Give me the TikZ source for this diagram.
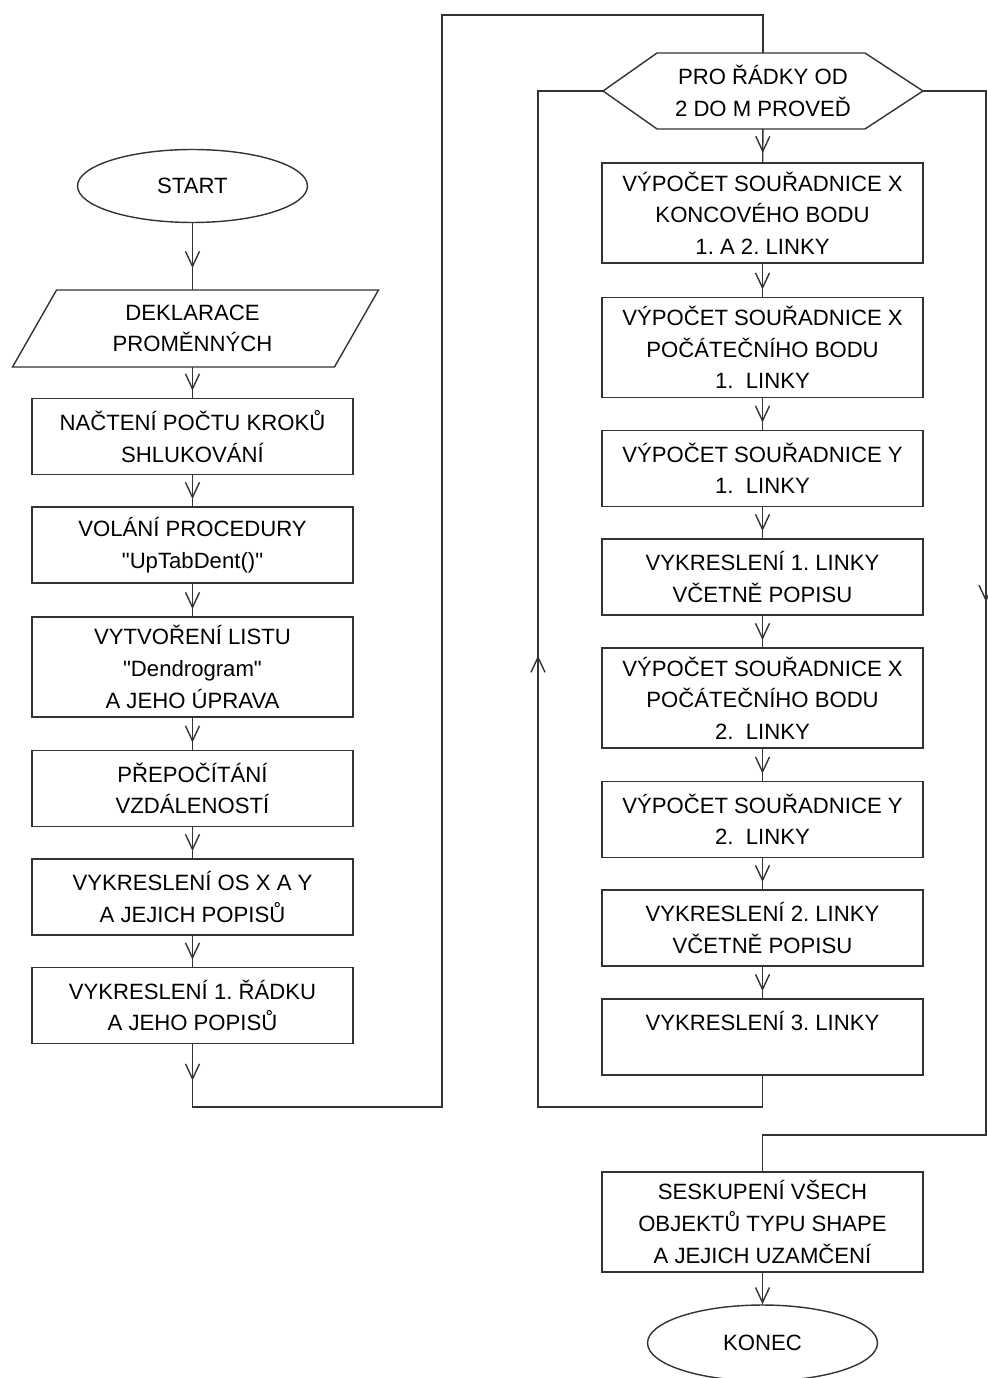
\documentclass[tikz,border=0pt]{standalone}
\usepackage{fontspec}
\setmainfont{Liberation Sans}[Ligatures=TeXOff]
\usepackage{tikz}
\usetikzlibrary{arrows.meta,positioning,calc,shapes.geometric,decorations.markings}

\newcommand\boxfont{\fontsize{12.6}{18}\selectfont\frenchspacing}

\begin{document}
\begin{tikzpicture}[
  x=0.02cm,y=-0.02cm,
  flow/.style={line width=0.8pt,draw=black!80},
  tipat/.style={postaction={decorate,decoration={markings,
    mark=at position #1 with {\arrow{Straight Barb[length=0.3cm,width=0.28cm]}}}}},
  tipat/.default=-0.16cm,
  procbox/.style={draw=black!80,line width=0.8pt,rectangle,minimum width=6.42cm,
    minimum height=1.52cm,inner sep=0pt,outer sep=0pt,align=center},
  tallbox/.style={procbox,minimum height=2cm},
  term/.style={draw=black!80,line width=0.8pt,ellipse,minimum width=4.6cm,
    minimum height=1.46cm,inner sep=0pt,outer sep=0pt},
  every node/.style={font=\boxfont}
]
  \useasboundingbox (0,0) rectangle (987,1378);

  % left column
  \node[term] (start) at (192.5,186) {START};
  \node[minimum width=6.44cm,minimum height=1.54cm,inner sep=0pt,outer sep=0pt,
    align=center] (decl) at (192.5,328.5) {DEKLARACE\\PROMĚNNÝCH};
  \draw[flow] ($(decl.north west)+(25,0)$) -- ($(decl.north east)+(25,0)$)
    -- ($(decl.south east)+(-19,0)$) -- ($(decl.south west)+(-19,0)$) -- cycle;
  \node[procbox] (steps) at (192.5,436.5) {NAČTENÍ POČTU KROKŮ\\SHLUKOVÁNÍ};
  \node[procbox] (call) at (192.5,545) {VOLÁNÍ PROCEDURY\\"UpTabDent()"};
  \node[tallbox] (sheet) at (192.5,667) {VYTVOŘENÍ LISTU\\"Dendrogram"\\A JEHO ÚPRAVA};
  \node[procbox] (dist) at (192.5,788.5) {PŘEPOČÍTÁNÍ\\VZDÁLENOSTÍ};
  \node[procbox] (axes) at (192.5,897) {VYKRESLENÍ OS X A Y\\A JEJICH POPISŮ};
  \node[procbox] (firstrow) at (192.5,1005.5) {VYKRESLENÍ 1. ŘÁDKU\\A JEHO POPISŮ};

  % right column
  \node[minimum width=6.4cm,minimum height=1.52cm,inner sep=0pt,outer sep=0pt,
    align=center] (loophead) at (763,91) {PRO ŘÁDKY OD\\2 DO M PROVEĎ};
  \draw[flow] (loophead.west) -- ($(loophead.north west)+(54,0)$)
    -- ($(loophead.north east)+(-58,0)$) -- (loophead.east)
    -- ($(loophead.south east)+(-58,0)$) -- ($(loophead.south west)+(54,0)$) -- cycle;
  \node[tallbox] (endx) at (762.5,213) {VÝPOČET SOUŘADNICE X\\KONCOVÉHO BODU\\1. A 2. LINKY};
  \node[tallbox] (startxa) at (762.5,347.5) {VÝPOČET SOUŘADNICE X\\POČÁTEČNÍHO BODU\\1.\ \ LINKY};
  \node[procbox] (ya) at (762.5,468.5) {VÝPOČET SOUŘADNICE Y\\1.\ \ LINKY};
  \node[procbox] (linea) at (762.5,577) {VYKRESLENÍ 1. LINKY\\VČETNĚ POPISU};
  \node[tallbox] (startxb) at (762.5,698) {VÝPOČET SOUŘADNICE X\\POČÁTEČNÍHO BODU\\2.\ \ LINKY};
  \node[procbox] (yb) at (762.5,819.5) {VÝPOČET SOUŘADNICE Y\\2.\ \ LINKY};
  \node[procbox] (lineb) at (762.5,928) {VYKRESLENÍ 2. LINKY\\VČETNĚ POPISU};
  \node[procbox] (linec) at (762.5,1037) {VYKRESLENÍ 3. LINKY\\\mbox{}};
  \node[tallbox] (group) at (762.5,1222) {SESKUPENÍ VŠECH\\OBJEKTŮ TYPU SHAPE\\A JEJICH UZAMČENÍ};
  \node[term,minimum height=1.52cm] (stop) at (762.5,1343) {KONEC};

  \coordinate (leftlow) at (192.5,1107);
  \coordinate (topleft) at (442,15);
  \coordinate (looplow) at (538,1107);
  \coordinate (exitlow) at (986,1135);

  \draw[flow,tipat=-0.44cm] (start) -- (decl);
  \draw[flow,tipat] (decl) -- (steps);
  \draw[flow,tipat] (steps) -- (call);
  \draw[flow,tipat] (call) -- (sheet);
  \draw[flow,tipat] (sheet) -- (dist);
  \draw[flow,tipat] (dist) -- (axes);
  \draw[flow,tipat] (axes) -- (firstrow);
  \draw[flow,tipat=0.74cm] (firstrow.south) -- (leftlow) -| (topleft) -| (loophead.north);
  \draw[flow,tipat=-0.2cm] (loophead) -- (endx);
  \draw[flow,tipat] (endx) -- (startxa);
  \draw[flow,tipat] (startxa) -- (ya);
  \draw[flow,tipat] (ya) -- (linea);
  \draw[flow,tipat] (linea) -- (startxb);
  \draw[flow,tipat] (startxb) -- (yb);
  \draw[flow,tipat] (yb) -- (lineb);
  \draw[flow,tipat] (lineb) -- (linec);
  \draw[flow,tipat=14.16cm] (linec.south) |- (looplow) |- (loophead.west);
  \draw[flow,tipat=11.48cm] (loophead.east) -| (exitlow) -| (group.north);
  \draw[flow,tipat=-0.5pt] (group) -- (stop);
\end{tikzpicture}
\end{document}
